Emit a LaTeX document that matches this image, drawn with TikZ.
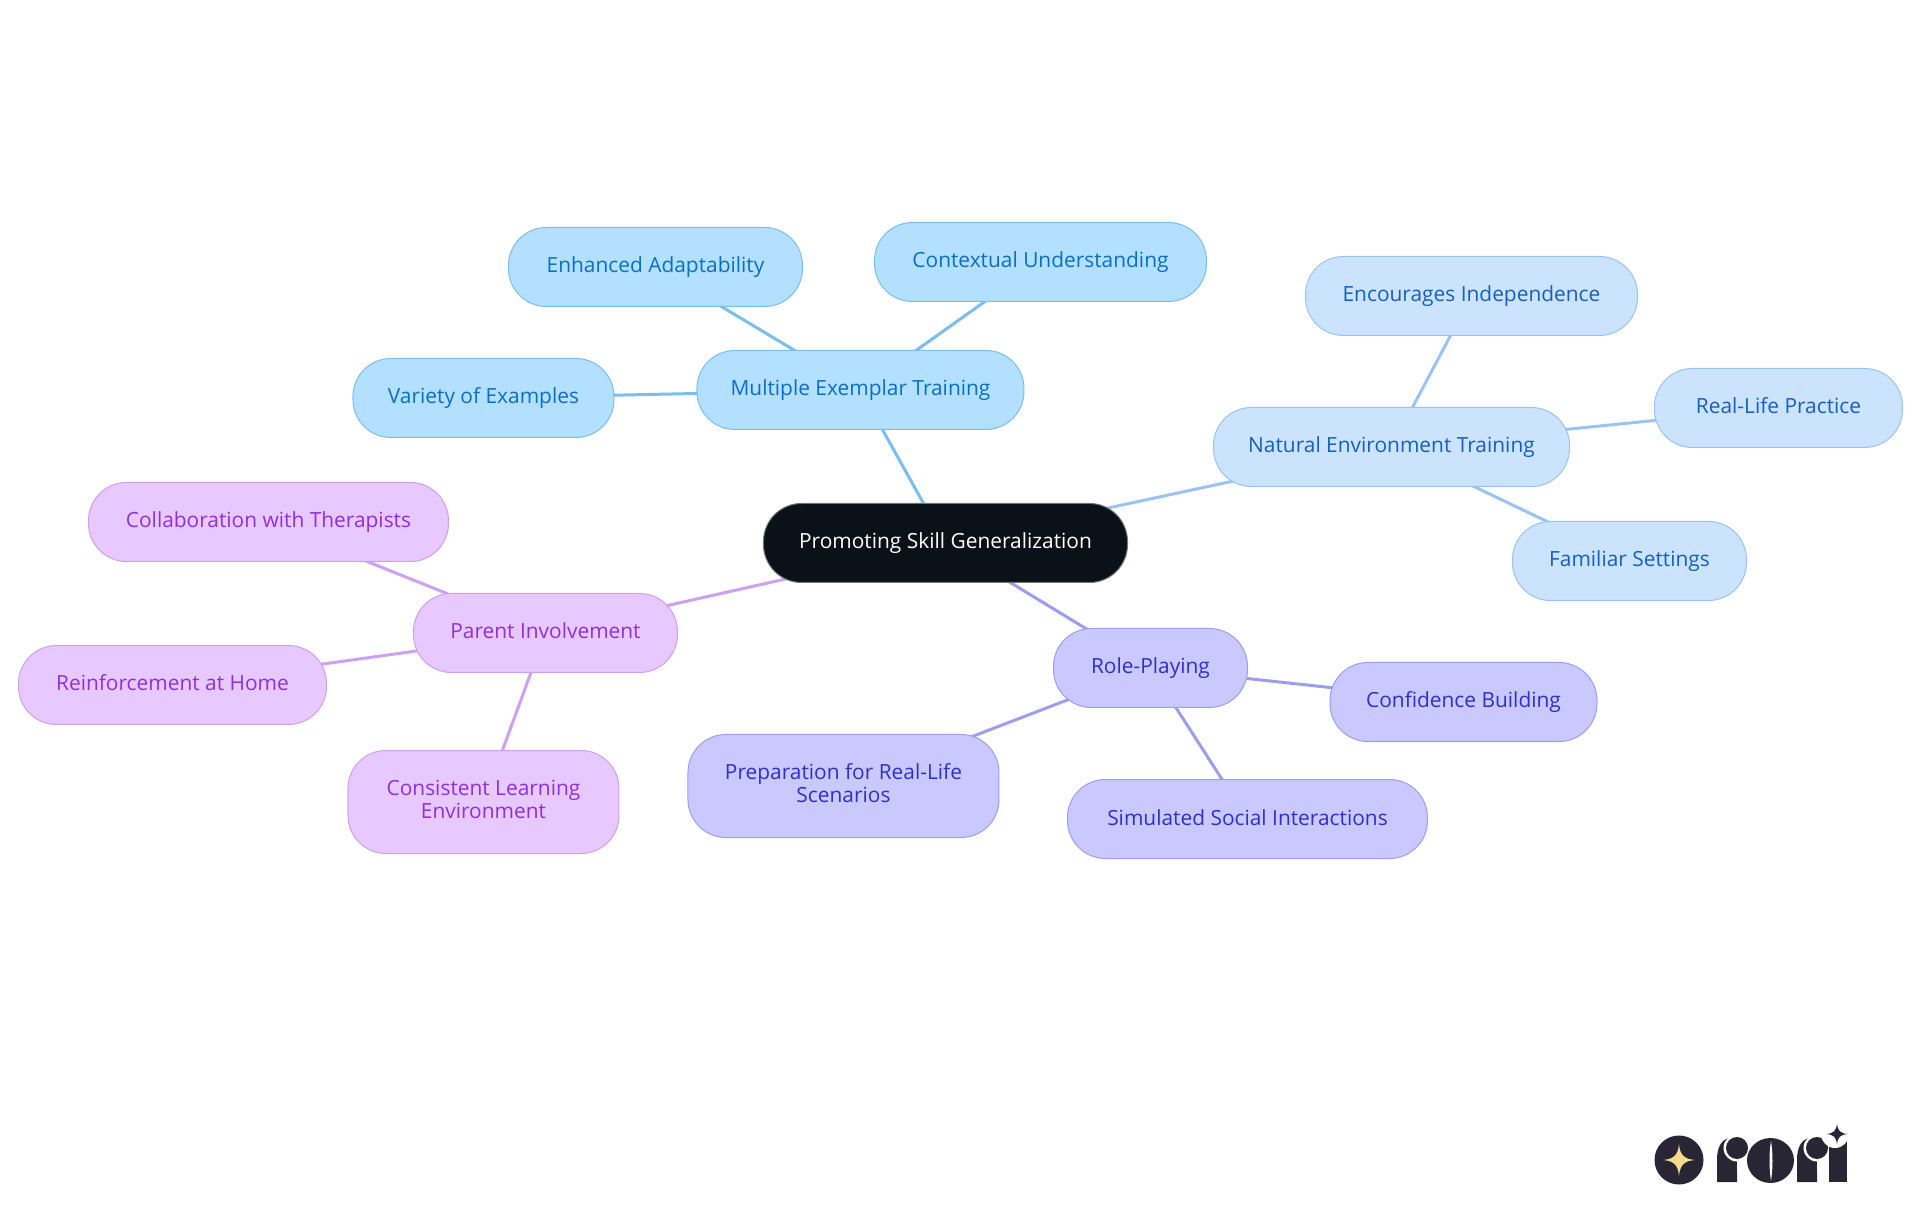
\documentclass[tikz,border=0pt]{standalone}
\usepackage{fontspec}
\setmainfont{Open Sans}
\usetikzlibrary{positioning, backgrounds}
\definecolor{rootfill}{HTML}{0B1119}
\definecolor{metfill}{HTML}{B3E0FF}
\definecolor{metline}{HTML}{7ABDF0}
\definecolor{mettext}{HTML}{0A6FC2}
\definecolor{netfill}{HTML}{CCE3FD}
\definecolor{netline}{HTML}{99C3F5}
\definecolor{nettext}{HTML}{1560BD}
\definecolor{rolefill}{HTML}{C9C9FF}
\definecolor{roleline}{HTML}{9D9DF0}
\definecolor{roletext}{HTML}{3030C8}
\definecolor{parfill}{HTML}{E7C9FF}
\definecolor{parline}{HTML}{CDA0F2}
\definecolor{partext}{HTML}{9030D8}
\definecolor{logodark}{HTML}{282635}
\definecolor{logostar}{HTML}{FBD98B}

\newcommand{\boxstrut}{\rule[-5pt]{0pt}{22pt}}
\newcommand{\logostem}[1]{%
  \fill[logodark, xshift=#1] (1717,1182) -- (1717,1160) .. controls (1717,1146) and (1722,1139) .. (1731,1137.5) -- (1737,1137.5) -- (1737,1182) -- cycle;
  \fill[white, xshift=#1] (1737,1148) circle (13.5) (1737,1136) rectangle (1752,1170);
  \fill[logodark, xshift=#1] (1737,1148) circle (11);
}
\newcommand{\logospark}[3]{%
  \fill[#3] (#1,#2-16) .. controls (#1+1,#2-5) and (#1+5,#2-1) .. (#1+16,#2) .. controls (#1+5,#2+1) and (#1+1,#2+5) .. (#1,#2+16) .. controls (#1-1,#2+5) and (#1-5,#2+1) .. (#1-16,#2) .. controls (#1-5,#2-1) and (#1-1,#2-5) .. (#1,#2-16) -- cycle;
}

\begin{document}
\begin{tikzpicture}[
    x=1pt, y=1pt, on grid,
    box/.style={draw, rectangle, rounded corners=38pt, minimum height=79pt, inner sep=0pt, line width=1pt, align=center, font=\fontsize{20.9}{23}\selectfont, execute at begin node=\boxstrut},
    rootbox/.style={box, draw=black!55, fill=rootfill, text=white},
    metbox/.style={box, draw=metline, fill=metfill, text=mettext},
    netbox/.style={box, draw=netline, fill=netfill, text=nettext},
    rolebox/.style={box, draw=roleline, fill=rolefill, text=roletext},
    parbox/.style={box, draw=parline, fill=parfill, text=partext},
    link/.style={line width=3pt}
]
\useasboundingbox (-945.5,543) rectangle (974.5,-672);

\node[rootbox, minimum width=364pt] (root) {Promoting Skill Generalization};

\node[metbox, minimum width=327pt, above left=153pt and 85pt of root] (met) {Multiple Exemplar Training};
\node[metbox, minimum width=294pt, above left=123pt and 205pt of met] (adapt) {Enhanced Adaptability};
\node[metbox, minimum width=332pt, above right=128pt and 180pt of met] (context) {Contextual Understanding};
\node[metbox, minimum width=261pt, below left=8pt and 377pt of met] (variety) {Variety of Examples};

\node[netbox, minimum width=356pt, above right=96pt and 446pt of root] (net) {Natural Environment Training};
\node[netbox, minimum width=332pt, above right=151pt and 80pt of net] (indep) {Encourages Independence};
\node[netbox, minimum width=248pt, above right=39pt and 387pt of net] (practice) {Real-Life Practice};
\node[netbox, minimum width=234pt, below right=114pt and 238pt of net] (settings) {Familiar Settings};

\node[rolebox, minimum width=194pt, below right=125pt and 205pt of root] (role) {Role-Playing};
\node[rolebox, minimum width=267pt, below right=34pt and 313pt of role] (confid) {Confidence Building};
\node[rolebox, minimum width=360pt, below right=151pt and 97pt of role] (social) {Simulated Social Interactions};
\node[rolebox, minimum width=311pt, minimum height=103pt, below left=118pt and 307pt of role] (prep) {Preparation for Real-Life\\\boxstrut Scenarios};

\node[parbox, minimum width=264pt, below left=90pt and 400pt of root] (parent) {Parent Involvement};
\node[parbox, minimum width=360pt, above left=111pt and 277pt of parent] (collab) {Collaboration with Therapists};
\node[parbox, minimum width=308pt, below left=52pt and 373pt of parent] (reinf) {Reinforcement at Home};
\node[parbox, minimum width=271pt, minimum height=103pt, below left=169pt and 62pt of parent] (consist) {Consistent Learning\\\boxstrut Environment};

\begin{scope}[on background layer]
\draw[link, metline] (root.center) -- (met.center);
\draw[link, metline] (met.center) -- (adapt.center);
\draw[link, metline] (met.center) -- (context.center);
\draw[link, metline] (met.center) -- (variety.center);
\draw[link, netline] (root.center) -- (net.center);
\draw[link, netline] (net.center) -- (indep.center);
\draw[link, netline] (net.center) -- (practice.center);
\draw[link, netline] (net.center) -- (settings.center);
\draw[link, roleline] (root.center) -- (role.center);
\draw[link, roleline] (role.center) -- (confid.center);
\draw[link, roleline] (role.center) -- (social.center);
\draw[link, roleline] (role.center) -- (prep.center);
\draw[link, parline] (root.center) -- (parent.center);
\draw[link, parline] (parent.center) -- (collab.center);
\draw[link, parline] (parent.center) -- (reinf.center);
\draw[link, parline] (parent.center) -- (consist.center);
\end{scope}

% logo
\begin{scope}[shift={(-945.5,543)}, y=-1pt]
\fill[logodark] (1679,1160) circle (24.5);
\logospark{1679}{1160}{logostar}
\logostem{0pt}
\fill[logodark] (1770.5,1160.5) ellipse (23.5 and 22.5);
\fill[white] (1771,1141) .. controls (1769,1153) and (1769,1168) .. (1771,1181) .. controls (1773,1168) and (1773,1153) .. (1771,1141) -- cycle;
\logostem{80pt}
\fill[logodark] (1829,1141) rectangle (1847,1182);
\fill[white] (1835,1134) circle (14);
\begin{scope}[shift={(1837,1134)}, scale=0.66]
\logospark{0}{0}{logodark}
\end{scope}
\end{scope}
\end{tikzpicture}
\end{document}
